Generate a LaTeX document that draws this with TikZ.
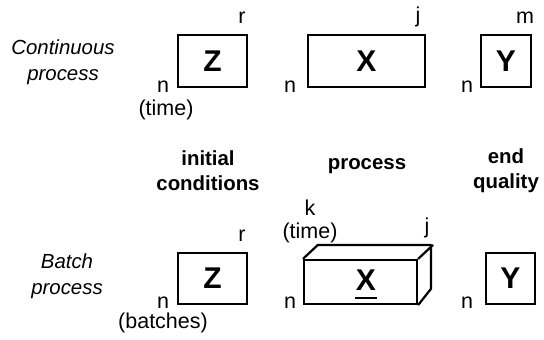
\documentclass[tikz,border=0pt]{standalone}
\usepackage{fontspec}
\setmainfont{Liberation Sans}
\begin{document}
\begin{tikzpicture}[x=1pt,y=-1pt,
  box/.style={draw, line width=1.6pt, inner sep=0pt},
  big/.style={font=\fontsize{30}{32}\selectfont\bfseries, inner sep=0pt},
  lbl/.style={font=\fontsize{21.5}{24}\selectfont, inner sep=0pt},
  head/.style={font=\fontsize{20.4}{25}\selectfont\bfseries, align=center, inner sep=0pt},
  side/.style={font=\fontsize{20.4}{26}\selectfont\itshape, align=center, inner sep=0pt}]
\useasboundingbox (0,0) rectangle (544,340);
% left labels
\node[side] (cont) at (63,62) {Continuous\\process};
\node[side] (batch) at (67,276) {Batch\\process};
% top row
\node[box, minimum width=69pt, minimum height=52pt] (z1) at (212.5,61) {};
\node[big] (z1t) at (z1) {Z};
\node[box, minimum width=117pt, minimum height=52pt] (x1) at (366.5,61) {};
\node[big] (x1t) at (x1) {X};
\node[box, minimum width=50pt, minimum height=52pt] (y1) at (506,61) {};
\node[big] (y1t) at (y1) {Y};
\node[lbl] (r1) at (242,18) {r};
\node[lbl] (n1) at (163,87) {n};
\node[lbl] (t1) at (166,110) {(time)};
\node[lbl] (j1) at (418,17) {j};
\node[lbl] (n2) at (290,87) {n};
\node[lbl] (m1) at (525,18) {m};
\node[lbl] (n3) at (467,87) {n};
% middle headings
\node[head] (h1) at (208,171) {initial\\conditions};
\node[head] (h2) at (367,166) {process};
\node[head] (h3) at (506,171) {end\\quality};
% bottom row
\node[box, minimum width=69pt, minimum height=51pt] (z2) at (212.5,278.5) {};
\node[big] (z2t) at (z2) {Z};
\node[box, line width=2.2pt, minimum width=113pt, minimum height=44pt] (x2) at (360.5,282) {};
\draw[line width=2.2pt, line join=round] (x2.north west) -- ++(15,-14) -- ++(113,0) -- ++(0,44) -- (x2.south east);
\draw[line width=2.2pt, line join=round] (x2.north east) -- ++(15,-14);
\node[big] (x2t) at (366,280) {X};
\draw[line width=2.6pt] (x2t.center) ++(-11,18) -- ++(22,0);
\node[box, minimum width=49pt, minimum height=51pt] (y2) at (510.5,278.5) {};
\node[big] (y2t) at (y2) {Y};
\node[lbl] (r2) at (242,236) {r};
\node[lbl] (n4) at (163,303) {n};
\node[lbl] (bt) at (163,323) {(batches)};
\node[lbl] (k2) at (310,208) {k};
\node[lbl] (t2) at (310,233) {(time)};
\node[lbl] (j2) at (427,228) {j};
\node[lbl] (n5) at (290,303) {n};
\node[lbl] (n6) at (467,303) {n};
\end{tikzpicture}
\end{document}
